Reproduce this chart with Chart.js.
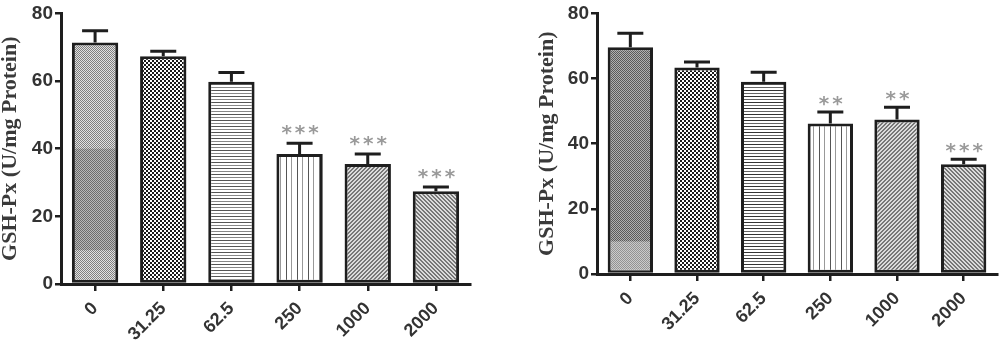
<!DOCTYPE html>
<html>
<head>
<meta charset="utf-8">
<script src="https://cdn.jsdelivr.net/npm/chart.js@4/dist/chart.umd.min.js"></script>
<style>
  body { margin: 0; background: #fff; }
  #wrap { position: relative; width: 1000px; height: 343px; }
  canvas { position: absolute; top: 0; }
  #c1 { left: 0; }
  #c2 { left: 500px; }
</style>
</head>
<body>
<div id="wrap">
  <canvas id="c1" width="500" height="343"></canvas>
  <canvas id="c2" width="500" height="343"></canvas>
</div>
<script>
// doses (ug/mL) on the x axis
const doses = ['0', '31.25', '62.5', '250', '1000', '2000'];
const yTicks = [0, 20, 40, 60, 80];
const yTitle = 'GSH-Px (U/mg Protein)';

// left panel
const meansA = [71.4, 67.3, 59.8, 38.4, 35.5, 27.4];
const errA = [3.5, 1.5, 2.7, 3.2, 2.9, 1.3];
const starsA = ['', '', '', '***', '***', '***'];
const bandA = [10, 40];

// right panel
const meansB = [69.6, 63.4, 59.0, 46.2, 47.4, 33.7];
const errB = [4.3, 1.7, 2.9, 3.5, 3.8, 1.5];
const starsB = ['', '', '', '**', '**', '***'];
const bandB = [0, 10];

const INK = '#1e1e1e';
const TXT = '#333';

function pat(w, h, fn) {
  const c = document.createElement('canvas');
  c.width = w; c.height = h;
  const g = c.getContext('2d');
  g.fillStyle = '#fff';
  g.fillRect(0, 0, w, h);
  fn(g);
  return g.createPattern(c, 'repeat');
}

function stipple(a, b) {
  return pat(2, 2, g => {
    g.fillStyle = b; g.fillRect(0, 0, 2, 2);
    g.fillStyle = a; g.fillRect(0, 0, 1, 1); g.fillRect(1, 1, 1, 1);
  });
}
const dots = pat(4, 4, g => {
  g.fillStyle = '#1a1a1a';
  g.fillRect(0, 0, 2, 2);
  g.fillRect(2, 2, 2, 2);
});
function hlines(c1, c2) {
  return pat(1, 6, g => {
    g.fillStyle = c1; g.fillRect(0, 0, 1, 1);
    g.fillStyle = c2; g.fillRect(0, 3, 1, 1);
  });
}
const vlines = pat(11, 1, g => {
  g.fillStyle = '#555'; g.fillRect(0, 0, 1, 1);
  g.fillStyle = '#999'; g.fillRect(5, 0, 1, 1);
});
function diag(dir) {
  return pat(4, 4, g => {
    for (let x = 0; x < 4; x++) {
      for (let y = 0; y < 4; y++) {
        const k = dir > 0 ? (x + y) % 4 : (x - y + 8) % 4;
        g.fillStyle = k < 2 ? '#777' : '#dcdcdc';
        g.fillRect(x, y, 1, 1);
      }
    }
  });
}

const fillsA = [stipple('#808080', '#e2e2e2'), dots, hlines('#555', '#888'), vlines, diag(1), diag(-1)];
const fillsB = [stipple('#5a5a5a', '#b0b0b0'), dots, hlines('#333', '#666'), vlines, diag(1), diag(-1)];

const errorBars = {
  id: 'errorBars',
  afterDatasetsDraw(chart, args, opts) {
    const { ctx, scales: { y } } = chart;
    const meta = chart.getDatasetMeta(0);
    const data = chart.data.datasets[0].data;
    ctx.save();
    // scan shading band on the control bar
    const b0 = meta.data[0];
    const hw = b0.width / 2 - 3;
    ctx.fillStyle = opts.bandColor;
    const yb1 = Math.min(y.getPixelForValue(opts.band[0]), y.bottom - 3);
    const yb2 = y.getPixelForValue(opts.band[1]);
    ctx.fillRect(b0.x - hw, yb2, hw * 2, yb1 - yb2);

    ctx.strokeStyle = INK;
    ctx.lineWidth = 3;
    meta.data.forEach((bar, i) => {
      const top = y.getPixelForValue(data[i] + opts.errors[i]);
      ctx.beginPath();
      ctx.moveTo(bar.x, bar.y);
      ctx.lineTo(bar.x, top);
      ctx.moveTo(bar.x - 13, top);
      ctx.lineTo(bar.x + 13, top);
      ctx.stroke();
      if (opts.stars[i]) {
        ctx.fillStyle = '#9a9a9a';
        ctx.font = 'bold 20px "DejaVu Sans"';
        ctx.letterSpacing = '3px';
        ctx.textAlign = 'center';
        ctx.textBaseline = 'alphabetic';
        ctx.fillText(opts.stars[i], bar.x + 2, top + opts.starLift);
      }
    });
    ctx.restore();
  }
};

function makeChart(id, means, errs, stars, fills, band, bandColor, pad, yWidth, xHeight, titlePad, starLift) {
  return new Chart(document.getElementById(id), {
    type: 'bar',
    data: {
      labels: doses,
      datasets: [{
        data: means,
        backgroundColor: fills,
        borderColor: INK,
        borderWidth: 3,
        borderSkipped: false,
        barPercentage: 0.68,
        categoryPercentage: 1
      }]
    },
    options: {
      responsive: false,
      animation: false,
      devicePixelRatio: 1,
      layout: { padding: pad },
      plugins: {
        legend: { display: false },
        tooltip: { enabled: false },
        errorBars: { errors: errs, stars: stars, band: band, bandColor: bandColor, starLift: starLift }
      },
      scales: {
        x: {
          offset: true,
          grid: { offset: false, drawOnChartArea: false, color: INK, lineWidth: 2.5, tickLength: 7 },
          border: { display: true, color: INK, width: 3 },
          ticks: {
            minRotation: 45, maxRotation: 45, padding: 7,
            color: TXT, font: { family: '"Liberation Sans", Arial', weight: 'bold', size: 18 }
          },
          afterFit: s => { s.height = xHeight; }
        },
        y: {
          min: 0, max: 80,
          afterBuildTicks: s => { s.ticks = yTicks.map(v => ({ value: v })); },
          grid: { drawOnChartArea: false, color: INK, lineWidth: 2.5, tickLength: 6 },
          border: { display: true, color: INK, width: 3 },
          ticks: {
            padding: 2,
            color: TXT, font: { family: '"Liberation Sans", Arial', weight: 'bold', size: 19 }
          },
          title: {
            display: true, text: yTitle, color: '#3a3a3a',
            padding: { top: titlePad, bottom: 0 },
            font: { family: '"Liberation Serif", "Times New Roman", serif', weight: 'bold', size: 22, lineHeight: 1 }
          },
          afterFit: s => { s.width = yWidth; }
        }
      }
    },
    plugins: [errorBars]
  });
}

makeChart('c1', meansA, errA, starsA, fillsA, bandA, 'rgba(40,40,40,0.22)',
  { left: 0, top: 10, right: 30, bottom: 0 }, 61, 59, -1, -4);
makeChart('c2', meansB, errB, starsB, fillsB, bandB, 'rgba(255,255,255,0.35)',
  { left: 0, top: 7, right: 3, bottom: 0 }, 97, 69, 36, -2);
</script>
</body>
</html>
